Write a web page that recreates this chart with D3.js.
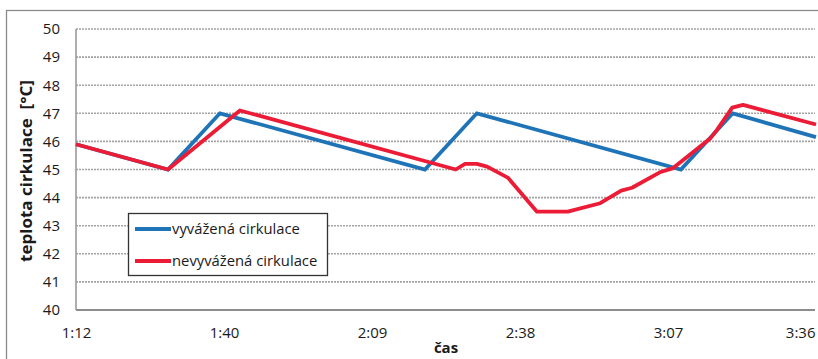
<!DOCTYPE html>
<html><head><meta charset="utf-8">
<script src="https://cdn.jsdelivr.net/npm/d3@7"></script>
<style>
html,body{margin:0;padding:0;background:#fff;}
svg{display:block;}
text{font-family:"Open Sans","Noto Sans",sans-serif;fill:#1a1a1a;}
</style></head>
<body>
<svg id="c" width="818" height="359"></svg>
<script>
// time in minutes from midnight
const blueTime = [72, 89.9, 100.0, 139.9, 150.0, 189.7, 199.8, 216];
const blueTemp = [45.9, 45.0, 47.0, 45.0, 47.0, 45.0, 47.0, 46.15];
const redTime = [72, 89.9, 103.9, 145.9, 147.7, 150.0, 152.0, 156.1, 161.7, 167.7, 174.0, 178.1, 180.2, 185.6, 188.2, 195.4, 196.7, 199.7, 201.8, 216];
const redTemp = [45.9, 45.0, 47.1, 45.0, 45.2, 45.2, 45.1, 44.7, 43.5, 43.5, 43.8, 44.25, 44.35, 44.9, 45.05, 46.1, 46.4, 47.2, 47.3, 46.6];
const xTicks = [72, 100.8, 129.6, 158.4, 187.2, 216];
const yTicks = [40, 41, 42, 43, 44, 45, 46, 47, 48, 49, 50];
const seriesNames = ["vyvážená cirkulace", "nevyvážená cirkulace"];
const seriesColors = ["#1f74b8", "#ec1c36"];

const svg = d3.select("#c");
const L = 76, R = 816, T = 29, B = 310;
const x = d3.scaleLinear().domain([72, 216]).range([L, R]);
const y = d3.scaleLinear().domain([40, 50]).range([B, T]);

// outer chart border
svg.append("rect").attr("x", 6.5).attr("y", 10.5).attr("width", 840).attr("height", 400)
  .attr("fill", "none").attr("stroke", "#8a8a8a").attr("stroke-width", 1.3);

// gridlines
svg.append("g").selectAll("line").data(yTicks.filter(d => d > 40)).join("line")
  .attr("x1", L).attr("x2", R - 1).attr("y1", d => y(d)).attr("y2", d => y(d))
  .attr("stroke", "#a3a3a3").attr("stroke-width", 1.6).attr("stroke-dasharray", "2,1");

// left axis line
svg.append("line").attr("x1", L).attr("x2", L).attr("y1", T).attr("y2", B)
  .attr("stroke", "#9a9a9a").attr("stroke-width", 1.6);
// bottom axis line
svg.append("line").attr("x1", L).attr("x2", R - 1).attr("y1", B).attr("y2", B)
  .attr("stroke", "#8c8c8c").attr("stroke-width", 2.2);

// y tick labels
const yAxis = d3.axisLeft(y).tickValues(yTicks).tickSize(0).tickPadding(16).tickFormat(d3.format("d"));
const gy = svg.append("g").attr("transform", `translate(${L},0)`).call(yAxis);
gy.select(".domain").remove();
gy.selectAll("text").style("font-size", "15px").attr("fill", "#1a1a1a")
  .style("font-family", '"Open Sans","Noto Sans",sans-serif');

// x tick labels
const fmt = m => { const h = Math.floor(m / 60), mm = Math.floor(m % 60 + 1e-6); return h + ":" + String(mm).padStart(2, "0"); };
const xAxis = d3.axisBottom(x).tickValues(xTicks).tickSize(0).tickPadding(17).tickFormat(fmt);
const gx = svg.append("g").attr("transform", `translate(0,${B})`).call(xAxis);
gx.select(".domain").remove();
gx.selectAll("text").style("font-size", "15px").attr("fill", "#1a1a1a")
  .style("font-family", '"Open Sans","Noto Sans",sans-serif');
gx.selectAll("g.tick").filter(d => d === 216).select("text").attr("text-anchor", "end").attr("dx", "-1");

// axis titles
svg.append("text").attr("x", 446).attr("y", 353).attr("text-anchor", "middle")
  .style("font-size", "15px").style("font-weight", "bold").text("čas");
svg.append("text").attr("transform", "translate(32,171) rotate(-90)").attr("text-anchor", "middle")
  .style("font-size", "16px").style("font-weight", "bold").style("white-space", "pre")
  .attr("textLength", 182).attr("lengthAdjust", "spacingAndGlyphs")
  .text("teplota cirkulace  [°C]");

// lines
const line = d3.line().x(d => x(d[0])).y(d => y(d[1]));
const blue = blueTime.map((t, i) => [t, blueTemp[i]]);
const red = redTime.map((t, i) => [t, redTemp[i]]);
svg.append("path").datum(blue).attr("d", line).attr("fill", "none")
  .attr("stroke", seriesColors[0]).attr("stroke-width", 3.8).attr("stroke-linejoin", "miter");
svg.append("path").datum(red).attr("d", line).attr("fill", "none")
  .attr("stroke", seriesColors[1]).attr("stroke-width", 3.8).attr("stroke-linejoin", "round");

// legend
const lg = svg.append("g");
lg.append("rect").attr("x", 128.5).attr("y", 213.5).attr("width", 199).attr("height", 62)
  .attr("fill", "#fff").attr("stroke", "#333").attr("stroke-width", 1.3);
seriesNames.forEach((n, i) => {
  const yy = 229 + i * 32;
  lg.append("line").attr("x1", 135).attr("x2", 171).attr("y1", yy).attr("y2", yy)
    .attr("stroke", seriesColors[i]).attr("stroke-width", 3.8);
  lg.append("text").attr("x", 172).attr("y", yy + 5).style("font-size", "14.8px").text(n);
});
</script>
</body></html>
